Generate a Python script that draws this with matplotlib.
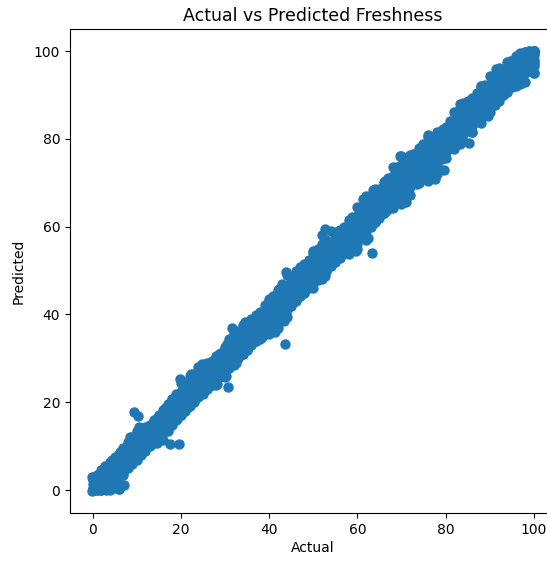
import matplotlib
matplotlib.use("Agg")
import matplotlib.pyplot as plt

# points, outline of the band first
actual_upper = [-0.1, 2.9, 4.45, 6.3, 8.6, 10.5, 12.7, 14.6, 16.5, 18.0, 19.9, 22.2, 24.7, 27.0,
                28.6, 30.5, 31.6, 34.6, 37.3, 39.9, 42.2, 43.8, 47.0, 50.0, 52.7, 55.7, 58.7,
                61.2, 63.6, 66.3, 69.6, 72.7, 74.9, 76.1, 79.5, 83.2, 85.1, 88.1, 91.5, 94.5,
                96.8, 100.0]
pred_upper = [3.1, 5.5, 6.9, 8.6, 12.0, 14.3, 14.3, 16.5, 18.8, 20.7, 25.3, 26.4, 28.7, 29.4,
              31.0, 33.2, 37.0, 38.2, 39.7, 43.5, 45.8, 49.6, 50.7, 54.5, 59.4, 59.1, 62.1,
              66.4, 68.3, 70.5, 76.1, 76.5, 78.8, 80.9, 82.2, 87.9, 88.5, 92.1, 96.0, 97.8,
              99.5, 100.0]

actual_lower = [-0.1, 6.0, 7.1, 7.1, 10.5, 12.0, 14.5, 17.5, 17.0, 19.2, 21.4, 23.1, 25.2, 28.2,
                30.2, 32.4, 35.0, 38.4, 41.4, 43.3, 45.9, 52.7, 54.2, 59.8, 62.5, 64.0, 66.6,
                71.0, 73.4, 77.6, 79.1, 83.2, 85.9, 89.6, 91.1, 93.8, 96.8, 100.0, 100.0]
pred_lower = [-0.2, 0.2, 1.1, 4.8, 7.8, 10.5, 10.8, 10.5, 13.5, 16.2, 18.8, 20.7, 22.6, 24.1,
              26.0, 29.0, 32.1, 34.8, 35.9, 38.6, 43.5, 48.8, 51.8, 54.5, 57.5, 61.0, 63.6,
              65.7, 69.7, 70.8, 75.4, 78.8, 81.5, 85.3, 87.7, 90.6, 92.5, 95.1, 98.0]

actual_outliers = [9.5, 10.3, 19.7, 30.8, 43.5, 63.4, 79.7, 85.3]
pred_outliers = [17.8, 16.8, 10.5, 23.5, 33.2, 53.9, 73.0, 79.0]

# body of the band, one column per unit of actual
actual_core = [0, 1, 2, 3, 4, 5, 6, 7, 8, 9, 10, 11, 12, 13, 14, 15, 16, 17, 18, 19, 20,
               21, 22, 23, 24, 25, 26, 27, 28, 29, 30, 31, 32, 33, 34, 35, 36, 37, 38, 39, 40,
               41, 42, 43, 44, 45, 46, 47, 48, 49, 50, 51, 52, 53, 54, 55, 56, 57, 58, 59, 60,
               61, 62, 63, 64, 65, 66, 67, 68, 69, 70, 71, 72, 73, 74, 75, 76, 77, 78, 79, 80,
               81, 82, 83, 84, 85, 86, 87, 88, 89, 90, 91, 92, 93, 94, 95, 96, 97, 98, 99, 100]
pred_core_mid = [0.5, 1.0, 2.3, 2.8, 4.2, 4.9, 6.1, 7.2, 7.9, 9.3, 10.1, 11.2, 11.8, 13.1, 13.9,
                 15.2, 16.1, 17.0, 18.2, 18.9, 20.3, 21.1, 22.2, 22.9, 24.2, 25.1, 25.8, 27.2,
                 28.1, 29.0, 30.2, 31.1, 31.9, 33.2, 34.1, 35.0, 36.2, 36.9, 38.1, 39.2, 40.0,
                 41.1, 41.9, 43.2, 44.1, 45.0, 46.2, 47.1, 47.9, 49.1, 50.2, 51.0, 52.1, 52.9,
                 54.2, 55.1, 55.9, 57.2, 58.0, 59.1, 60.2, 60.9, 62.1, 63.0, 64.2, 65.1, 65.9,
                 67.2, 68.0, 69.1, 70.2, 70.9, 72.1, 73.2, 73.9, 75.1, 76.0, 77.2, 77.9, 79.1,
                 80.2, 81.0, 82.1, 82.9, 84.2, 85.1, 85.9, 87.2, 88.0, 89.1, 90.2, 90.9, 92.1,
                 93.0, 94.2, 95.1, 95.9, 97.0, 98.1, 98.9, 99.6]
pred_core_up = [2.4, 3.0, 3.6, 4.9, 6.0, 7.1, 8.0, 9.2, 10.1, 11.0, 12.2, 13.1, 14.0, 14.8, 16.0,
                16.9, 17.8, 19.2, 20.0, 21.1, 22.3, 23.2, 24.0, 25.1, 26.2, 27.1, 28.0, 29.0,
                30.1, 31.2, 32.0, 33.1, 34.2, 35.0, 36.1, 37.2, 38.0, 39.1, 40.2, 41.0, 42.1,
                43.2, 44.0, 45.1, 46.2, 47.1, 48.0, 49.2, 50.1, 51.0, 52.2, 53.0, 54.1, 55.2,
                56.0, 57.1, 58.0, 59.2, 60.1, 61.0, 62.2, 63.0, 64.1, 65.2, 66.0, 67.1, 68.2,
                69.0, 70.1, 71.2, 72.0, 73.1, 74.2, 75.0, 76.1, 77.2, 78.0, 79.1, 80.0, 81.2,
                82.1, 83.0, 84.2, 85.1, 86.0, 87.1, 88.2, 89.0, 90.1, 91.2, 92.0, 93.1, 94.2,
                95.0, 96.1, 97.2, 98.0, 99.0, 99.8, 100.0, 100.0]
pred_core_lo = [0.0, 0.0, 0.0, 0.2, 1.0, 1.9, 3.1, 4.0, 5.1, 6.0, 6.9, 8.1, 9.0, 10.1, 11.0,
                12.2, 13.0, 13.9, 15.1, 16.0, 17.2, 18.0, 19.1, 20.0, 21.2, 21.9, 23.1, 24.0,
                25.2, 26.0, 27.1, 28.0, 29.2, 30.0, 31.1, 32.0, 33.2, 34.0, 35.1, 36.0, 37.2,
                38.1, 39.0, 40.1, 41.0, 42.2, 43.0, 44.1, 45.0, 46.2, 47.1, 48.0, 49.2, 50.0,
                51.1, 52.0, 53.2, 54.0, 55.1, 56.0, 57.2, 58.0, 59.1, 60.2, 61.0, 62.1, 63.0,
                64.2, 65.1, 66.0, 67.2, 68.0, 69.1, 70.0, 71.2, 72.0, 73.1, 74.0, 75.2, 76.0,
                77.1, 78.0, 79.2, 80.1, 81.0, 82.2, 83.0, 84.1, 85.0, 86.2, 87.1, 88.0, 89.2,
                90.0, 91.1, 92.2, 93.0, 94.1, 95.0, 96.2, 97.1]
pred_core_up1 = [1.5, 2.1, 3.0, 4.0, 5.1, 6.0, 7.1, 8.0, 9.1, 10.0, 11.1, 12.0, 13.1, 14.0, 15.1,
                 16.0, 17.1, 18.0, 19.1, 20.0, 21.1, 22.0, 23.1, 24.0, 25.1, 26.0, 27.1, 28.0,
                 29.1, 30.0, 31.1, 32.0, 33.1, 34.0, 35.1, 36.0, 37.1, 38.0, 39.1, 40.0, 41.1,
                 42.0, 43.1, 44.0, 45.1, 46.0, 47.1, 48.0, 49.1, 50.0, 51.1, 52.0, 53.1, 54.0,
                 55.1, 56.0, 57.1, 58.0, 59.1, 60.0, 61.1, 62.0, 63.1, 64.0, 65.1, 66.0, 67.1,
                 68.0, 69.1, 70.0, 71.1, 72.0, 73.1, 74.0, 75.1, 76.0, 77.1, 78.0, 79.1, 80.0,
                 81.1, 82.0, 83.1, 84.0, 85.1, 86.0, 87.1, 88.0, 89.1, 90.0, 91.1, 92.0, 93.1,
                 94.0, 95.1, 96.0, 97.1, 98.0, 99.1, 99.8, 100.0]
pred_core_lo1 = [0.1, 0.2, 1.0, 1.9, 3.0, 3.9, 5.0, 5.9, 7.0, 7.9, 9.0, 9.9, 11.0, 11.9, 13.0,
                 13.9, 15.0, 15.9, 17.0, 17.9, 19.0, 19.9, 21.0, 21.9, 23.0, 23.9, 25.0, 25.9,
                 27.0, 27.9, 29.0, 29.9, 31.0, 31.9, 33.0, 33.9, 35.0, 35.9, 37.0, 37.9, 39.0,
                 39.9, 41.0, 41.9, 43.0, 43.9, 45.0, 45.9, 47.0, 47.9, 49.0, 49.9, 51.0, 51.9,
                 53.0, 53.9, 55.0, 55.9, 57.0, 57.9, 59.0, 59.9, 61.0, 61.9, 63.0, 63.9, 65.0,
                 65.9, 67.0, 67.9, 69.0, 69.9, 71.0, 71.9, 73.0, 73.9, 75.0, 75.9, 77.0, 77.9,
                 79.0, 79.9, 81.0, 81.9, 83.0, 83.9, 85.0, 85.9, 87.0, 87.9, 89.0, 89.9, 91.0,
                 91.9, 93.0, 93.9, 95.0, 95.9, 97.0, 97.9, 99.0]

# rim of the band, every second unit of actual
actual_rim = [0, 2, 4, 6, 8, 10, 12, 14, 16, 18, 20, 22, 24, 26, 28, 30, 32, 34, 36, 38, 40,
              42, 44, 46, 48, 50, 52, 54, 56, 58, 60, 62, 64, 66, 68, 70, 72, 74, 76, 78, 80,
              82, 84, 86, 88, 90, 92, 94, 96, 98, 100]
pred_rim_up = [3.0, 4.5, 6.5, 8.3, 11.0, 13.5, 14.3, 15.8, 18.3, 20.7, 24.5, 26.0, 28.0, 29.0,
               30.5, 32.7, 36.0, 37.5, 39.0, 40.5, 43.0, 45.5, 49.0, 49.8, 51.5, 54.0, 58.0,
               59.0, 59.3, 61.5, 64.5, 67.0, 68.5, 70.2, 73.5, 76.0, 76.3, 78.0, 80.5, 81.5,
               82.8, 86.0, 88.2, 89.2, 92.0, 94.3, 96.2, 97.5, 98.9, 99.7, 100.0]
pred_rim_lo = [0.0, 0.0, 0.0, 0.2, 5.5, 7.4, 10.5, 10.8, 11.5, 14.8, 17.0, 19.7, 21.5, 23.0,
               24.0, 25.8, 28.5, 31.0, 33.0, 34.5, 35.5, 37.0, 39.5, 43.5, 45.0, 46.0, 48.0,
               51.5, 52.8, 53.8, 54.8, 57.0, 61.0, 63.0, 64.2, 65.2, 67.3, 70.0, 70.5, 72.0,
               75.6, 77.7, 79.5, 81.6, 83.7, 86.0, 88.5, 90.7, 92.0, 93.0, 95.1]

# odd columns between the core and the rim
actual_odd = [1, 3, 5, 7, 9, 11, 13, 15, 17, 19, 21, 23, 25, 27, 29, 31, 33, 35, 37, 39, 41,
              43, 45, 47, 49, 51, 53, 55, 57, 59, 61, 63, 65, 67, 69, 71, 73, 75, 77, 79, 81,
              83, 85, 87, 89, 91, 93, 95, 97, 99]
pred_odd_up = [3.5, 5.0, 7.5, 9.5, 12.0, 13.8, 14.8, 17.0, 19.5, 22.0, 24.5, 26.5, 28.0, 29.2,
               31.3, 34.5, 36.3, 38.0, 39.8, 42.2, 44.3, 47.0, 48.5, 50.3, 52.5, 55.0, 57.0,
               58.3, 60.0, 62.0, 64.5, 66.5, 68.5, 71.0, 73.5, 74.5, 76.5, 78.5, 80.3, 81.8,
               84.0, 86.5, 88.0, 90.5, 92.3, 94.3, 96.0, 97.8, 99.0, 100.0]
pred_odd_lo = [0.0, 0.0, 0.5, 3.5, 6.5, 8.5, 10.5, 11.8, 14.0, 16.2, 18.3, 20.3, 22.3, 24.0,
               26.0, 27.8, 30.0, 32.0, 34.0, 35.8, 37.5, 39.8, 42.0, 44.3, 46.0, 47.8, 50.0,
               52.0, 54.0, 55.8, 58.0, 60.0, 62.0, 64.0, 65.5, 67.8, 70.0, 71.5, 73.5, 75.8,
               77.8, 79.8, 81.8, 83.8, 85.8, 88.0, 90.0, 91.8, 93.5, 95.5]

# where the band is at its widest
actual_wide = [20, 22, 24, 32, 44, 50, 52, 52, 54, 60, 62, 64, 68, 68, 70, 70, 72, 76, 84, 88,
               90, 92, 16, 40, 42, 44, 60, 62, 70, 72, 76, 76, 78, 78, 80, 82, 84, 86, 98, 100,
               100, 96, 58, 58, 60]
pred_wide = [22.3, 24.0, 26.0, 34.3, 46.8, 52.2, 54.5, 56.0, 56.5, 62.5, 64.5, 66.5, 70.5, 71.5,
             72.5, 74.0, 74.2, 78.3, 86.2, 90.0, 92.2, 94.2, 13.5, 37.8, 39.5, 41.5, 57.5, 59.5,
             67.5, 69.5, 73.5, 72.0, 75.5, 74.0, 77.7, 79.7, 81.7, 83.8, 95.5, 97.5, 96.5, 93.5,
             55.5, 54.5, 56.0]

actual = (actual_upper + actual_lower + actual_outliers + actual_core * 5
          + actual_rim * 2 + actual_odd * 2 + actual_wide)
predicted = (pred_upper + pred_lower + pred_outliers + pred_core_mid + pred_core_up
             + pred_core_lo + pred_core_up1 + pred_core_lo1 + pred_rim_up + pred_rim_lo
             + pred_odd_up + pred_odd_lo + pred_wide)

fig = plt.figure(figsize=(5.47, 5.61), dpi=100)
# the source image is cropped, the right spine falls just outside it
ax = fig.add_axes([70 / 547, 48 / 561, 486 / 547, 484 / 561])
ax.scatter(actual, predicted, s=42)
ax.set_xlabel('Actual', labelpad=3)
ax.set_ylabel('Predicted', labelpad=6)
ax.set_title('Actual vs Predicted Freshness', fontsize=12.5)
fig.savefig('out.png', dpi=100)
